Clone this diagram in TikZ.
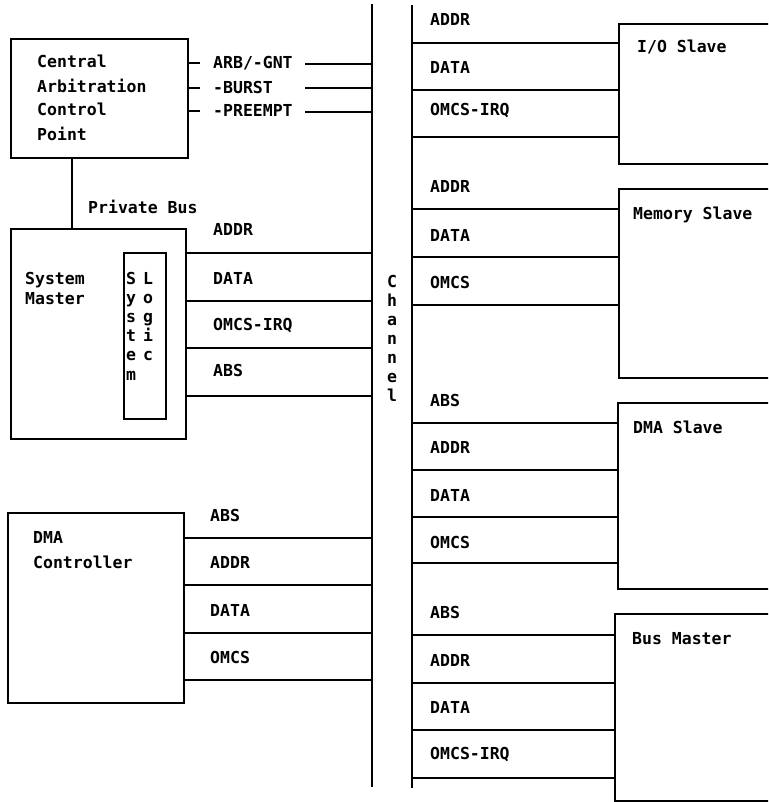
\documentclass[tikz,border=0pt]{standalone}
\usepackage{fontspec}
\setmonofont{DejaVu Sans Mono}
\begin{document}
\begin{tikzpicture}[x=1pt,y=-1pt,
  box/.style={draw, line width=1.8pt, rectangle, inner sep=0pt, anchor=north west},
  wire/.style={line width=1.8pt},
  lbl/.style={anchor=base west, inner sep=0pt, font=\ttfamily\bfseries\fontsize{16.5}{19}\selectfont},
  ch/.style={anchor=base, inner sep=0pt, font=\ttfamily\bfseries\fontsize{16.5}{19}\selectfont}]
\useasboundingbox (0,0) rectangle (768,802);
\clip (0,0) rectangle (768,802);

% channel lines
\coordinate (chLt) at (372,4);
\coordinate (chLb) at (372,787);
\coordinate (chRt) at (412,5);
\coordinate (chRb) at (412,788);
\draw[wire] (chLt) -- (chLb);
\draw[wire] (chRt) -- (chRb);

% Central Arbitration Control Point
\node[box, minimum width=177pt, minimum height=119pt] (cacp) at (10,38) {};
\node[lbl] (t1) at (37,68) {Central};
\node[lbl] (t2) at (37,93) {Arbitration};
\node[lbl] (t3) at (37,116) {Control};
\node[lbl] (t4) at (37,141) {Point};
\node[lbl] (arb) at (213,69) {ARB/-GNT};
\node[lbl] (burst) at (213,94) {-BURST};
\node[lbl] (pre) at (213,117) {-PREEMPT};
\draw[wire] (cacp.east |- 0,63) -- (200,63);
\draw[wire] (cacp.east |- 0,88) -- (200,88);
\draw[wire] (cacp.east |- 0,111) -- (200,111);
\draw[wire] (305,64) -- (chLt |- 0,64);
\draw[wire] (305,88) -- (chLt |- 0,88);
\draw[wire] (305,112) -- (chLt |- 0,112);

% System Master
\node[box, minimum width=175pt, minimum height=210pt] (sm) at (10,228) {};
\draw[wire] (cacp.south -| 72,0) -- (sm.north -| 72,0);
\node[lbl] (pb) at (88,214) {Private Bus};
\node[lbl] (sm1) at (25,284) {System};
\node[lbl] (sm2) at (25,304) {Master};
\node[box, minimum width=42pt, minimum height=166pt] (sl) at (123,252) {};
\foreach \c [count=\i from 0] in {S,y,s,t,e,m}
  \node[ch] (sla\i) at (131,284+19.2*\i) {\c};
\foreach \c [count=\i from 0] in {L,o,g,i,c}
  \node[ch] (slb\i) at (148,284+19.2*\i) {\c};
\node[lbl] (sma) at (213,236) {ADDR};
\node[lbl] (smd) at (213,284) {DATA};
\node[lbl] (smo) at (213,330) {OMCS-IRQ};
\node[lbl] (smb) at (213,376) {ABS};
\foreach \y in {253,301,348,396}
  \draw[wire] (sm.east |- 0,\y) -- (chLt |- 0,\y);

% Channel label
\foreach \c [count=\i from 0] in {C,h,a,n,n,e,l}
  \node[ch] (chl\i) at (392,287+19*\i) {\c};

% DMA Controller
\node[box, minimum width=176pt, minimum height=190pt] (dmac) at (7,512) {};
\node[lbl] (dc1) at (33,543) {DMA};
\node[lbl] (dc2) at (33,568) {Controller};
\node[lbl] (dcb) at (210,521) {ABS};
\node[lbl] (dca) at (210,568) {ADDR};
\node[lbl] (dcd) at (210,616) {DATA};
\node[lbl] (dco) at (210,663) {OMCS};
\foreach \y in {538,585,633,680}
  \draw[wire] (dmac.east |- 0,\y) -- (chLt |- 0,\y);

% I/O Slave
\node[box, minimum width=200pt, minimum height=140pt] (io) at (618,23) {};
\node[lbl] (iot) at (637,53) {I/O Slave};
\node[lbl] (ioa) at (430,26) {ADDR};
\node[lbl] (iod) at (430,74) {DATA};
\node[lbl] (ioo) at (430,116) {OMCS-IRQ};
\foreach \y in {43,90,137}
  \draw[wire] (chRt |- 0,\y) -- (io.west |- 0,\y);

% Memory Slave
\node[box, minimum width=200pt, minimum height=189pt] (mem) at (618,188) {};
\node[lbl] (memt) at (633,219) {Memory Slave};
\node[lbl] (mema) at (430,193) {ADDR};
\node[lbl] (memd) at (430,241) {DATA};
\node[lbl] (memo) at (430,288) {OMCS};
\foreach \y in {209,257,305}
  \draw[wire] (chRt |- 0,\y) -- (mem.west |- 0,\y);

% DMA Slave
\node[box, minimum width=200pt, minimum height=186pt] (dmas) at (617,402) {};
\node[lbl] (dmast) at (633,433) {DMA Slave};
\node[lbl] (dmasb) at (430,406) {ABS};
\node[lbl] (dmasa) at (430,453) {ADDR};
\node[lbl] (dmasd) at (430,501) {DATA};
\node[lbl] (dmaso) at (430,548) {OMCS};
\foreach \y in {423,470,517,563}
  \draw[wire] (chRt |- 0,\y) -- (dmas.west |- 0,\y);

% Bus Master
\node[box, minimum width=200pt, minimum height=187pt] (bm) at (614,613) {};
\node[lbl] (bmt) at (632,644) {Bus Master};
\node[lbl] (bmb) at (430,618) {ABS};
\node[lbl] (bma) at (430,666) {ADDR};
\node[lbl] (bmd) at (430,713) {DATA};
\node[lbl] (bmo) at (430,759) {OMCS-IRQ};
\foreach \y in {635,683,730,778}
  \draw[wire] (chRt |- 0,\y) -- (bm.west |- 0,\y);
\end{tikzpicture}
\end{document}
